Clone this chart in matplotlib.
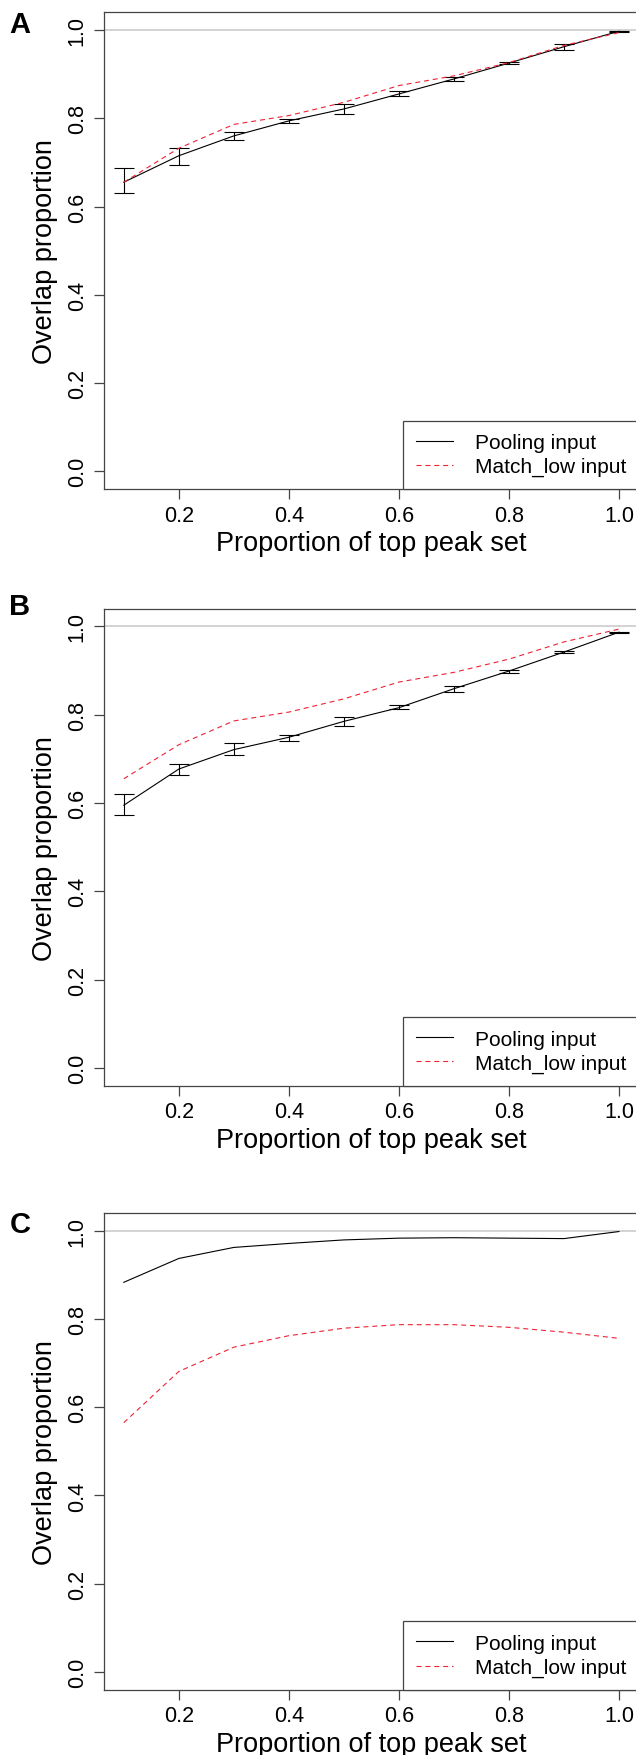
import matplotlib
matplotlib.use("Agg")
import matplotlib.pyplot as plt

plt.rcParams['font.family'] = ['Liberation Sans', 'DejaVu Sans']

# ===== DATA =====
proportion = [0.1, 0.2, 0.3, 0.4, 0.5, 0.6, 0.7, 0.8, 0.9, 1.0]
x_ticks = [0.2, 0.4, 0.6, 0.8, 1.0]
y_ticks = [0.0, 0.2, 0.4, 0.6, 0.8, 1.0]
panel_letters = ["A", "B", "C"]
legend_labels = ["Pooling input", "Match_low input"]

# panel A: pooling input (mean with error bars) and match_low input
pooling_a = [0.655, 0.715, 0.760, 0.794, 0.821, 0.855, 0.889, 0.925, 0.962, 0.997]
pooling_a_low = [0.631, 0.694, 0.751, 0.789, 0.810, 0.850, 0.884, 0.922, 0.955, 0.995]
pooling_a_high = [0.688, 0.732, 0.769, 0.798, 0.832, 0.862, 0.893, 0.927, 0.969, 0.998]
match_low_a = [0.655, 0.732, 0.786, 0.806, 0.836, 0.874, 0.896, 0.926, 0.965, 0.994]

# panel B
pooling_b = [0.595, 0.677, 0.721, 0.749, 0.785, 0.816, 0.859, 0.899, 0.942, 0.987]
pooling_b_low = [0.572, 0.664, 0.708, 0.741, 0.775, 0.812, 0.852, 0.895, 0.940, 0.986]
pooling_b_high = [0.620, 0.689, 0.735, 0.754, 0.794, 0.821, 0.866, 0.902, 0.944, 0.988]
match_low_b = [0.655, 0.732, 0.786, 0.806, 0.836, 0.874, 0.896, 0.926, 0.965, 0.994]

# panel C (no error bars)
pooling_c = [0.883, 0.937, 0.962, 0.971, 0.979, 0.983, 0.984, 0.983, 0.982, 0.998]
match_low_c = [0.565, 0.681, 0.736, 0.762, 0.779, 0.787, 0.787, 0.781, 0.770, 0.756]

panels = [
    (pooling_a, pooling_a_low, pooling_a_high, match_low_a),
    (pooling_b, pooling_b_low, pooling_b_high, match_low_b),
    (pooling_c, None, None, match_low_c),
]

# ===== LAYOUT =====
fig = plt.figure(figsize=(6.36, 17.56), dpi=100)
axes_bottoms = [0.72096, 0.38126, 0.03719]
letter_y = [0.98104, 0.64977, 0.29800]
frame_col = "#444444"

for i, (pool, low, high, match) in enumerate(panels):
    ax = fig.add_axes([0.16352, axes_bottoms[i], 0.84088, 0.27147])

    ax.axhline(1.0, color="#cccccc", lw=1.2, zorder=1)

    ax.plot(proportion, pool, color="black", lw=0.8, label=legend_labels[0], zorder=3)
    if low is not None:
        lower = [p - l for p, l in zip(pool, low)]
        upper = [h - p for p, h in zip(pool, high)]
        ax.errorbar(proportion, pool, yerr=[lower, upper], fmt="none",
                    ecolor="black", elinewidth=0.8, capsize=7.2, capthick=0.8, zorder=3)
    ax.plot(proportion, match, color="#ee2233", lw=0.8, linestyle=(0, (4.5, 3.5)),
            label=legend_labels[1], zorder=4)

    ax.set_xlim(0.064, 1.036)
    ax.set_ylim(-0.04, 1.04)
    ax.set_xticks(x_ticks)
    ax.set_yticks(y_ticks)
    ax.set_xticklabels([f"{t:.1f}" for t in x_ticks])
    ax.set_yticklabels([f"{t:.1f}" for t in y_ticks], rotation=90, va="center")

    for s in ax.spines.values():
        s.set_color(frame_col)
        s.set_linewidth(0.9)
    ax.tick_params(axis="both", length=7.2, width=0.9, color=frame_col, labelsize=15.5)
    ax.tick_params(axis="x", pad=4.0)
    ax.tick_params(axis="y", pad=4.5)

    ax.set_xlabel("Proportion of top peak set", fontsize=19.5)
    ax.set_ylabel("Overlap proportion", fontsize=19.5)
    ax.xaxis.set_label_coords(0.5, -0.086)
    ax.yaxis.set_label_coords(-0.086, 0.5)

    leg = ax.legend(loc="lower right", borderaxespad=0, fancybox=False,
                    edgecolor=frame_col, framealpha=1, fontsize=15,
                    handlelength=1.8, handletextpad=1.04, borderpad=0.6,
                    labelspacing=0.25)
    leg.get_frame().set_linewidth(0.9)

    fig.text(0.0314, letter_y[i], panel_letters[i], fontsize=21, fontweight="bold",
             ha="center", va="baseline")

plt.savefig("out.png", dpi=100)
